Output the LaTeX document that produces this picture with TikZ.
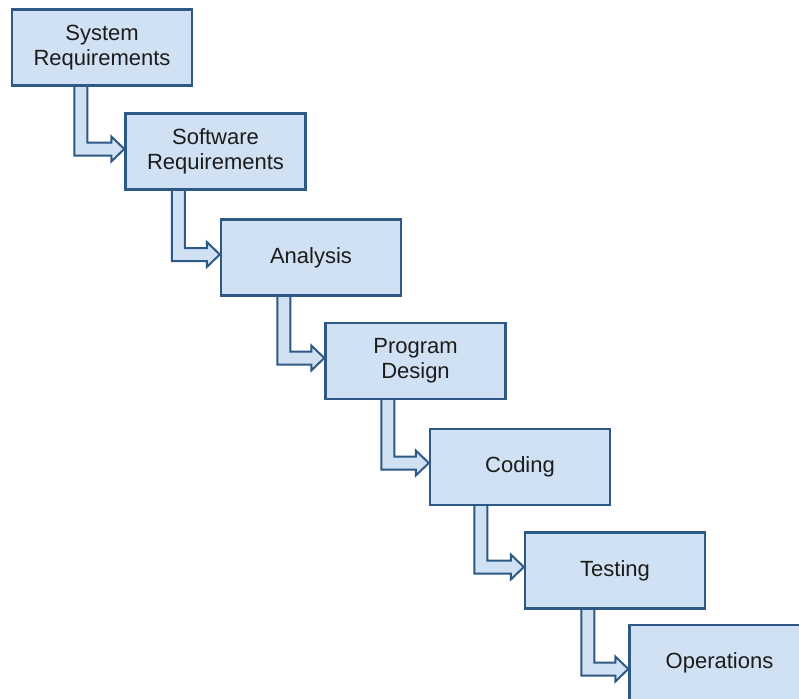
\documentclass[tikz,border=0pt]{standalone}
\usepackage{fontspec}
\setmainfont{Liberation Sans}
\usetikzlibrary{calc,backgrounds}

\definecolor{boxfill}{RGB}{207,225,242}
\definecolor{boxline}{RGB}{46,88,134}
\definecolor{labeltext}{RGB}{28,28,28}

\tikzset{
  phase/.style={draw=boxline, fill=boxfill, line width=2.4pt,
    minimum width=180pt, minimum height=76pt, inner sep=0pt,
    align=center, text=labeltext,
    font=\fontsize{22}{25}\selectfont},
  flowarrow/.style={draw=boxline, fill=boxfill, line width=2pt,
    line join=miter}
}

% Hollow elbow arrow: down from the bottom of #1 (shaft #3 pt from its
% left side), then right into the west side of #2 (shifted by #4).
\newcommand\flowstep[4]{%
  \draw[flowarrow]
    let \p1 = ($(#1.south west)+(#3,-4)$),
        \p2 = ($(#2.west)+(0,#4)$) in
    (\x1-6.5pt,\y1) -- (\x1-6.5pt,\y2-6.5pt)
    -- (\x2-13pt,\y2-6.5pt) -- (\x2-13pt,\y2-12.5pt)
    -- (\x2,\y2)
    -- (\x2-13pt,\y2+12.5pt) -- (\x2-13pt,\y2+6.5pt)
    -- (\x1+6.5pt,\y2+6.5pt) -- (\x1+6.5pt,\y1) -- cycle;
}

\begin{document}
\begin{tikzpicture}[x=1pt,y=-1pt]
  \useasboundingbox (0,0) rectangle (799,698);

  \node[phase] (sysreq) at (102,47.5)  {System\\Requirements};
  \node[phase] (swreq)  at (215.5,151.5) {Software\\Requirements};
  \node[phase] (anal)   at (311,257.5) {Analysis};
  \node[phase] (design) at (415.5,361) {Program\\Design};
  \node[phase] (coding) at (520,467)   {Coding};
  \node[phase] (test)   at (615,570.5) {Testing};
  \node[phase] (ops)    at (719.5,663) {Operations};

  \begin{scope}[on background layer]
    \flowstep{sysreq}{swreq}{70}{-2.5}
    \flowstep{swreq}{anal}{54}{-3}
    \flowstep{anal}{design}{64}{-3}
    \flowstep{design}{coding}{63.5}{-4}
    \flowstep{coding}{test}{52}{-3.5}
    \flowstep{test}{ops}{64}{6}
  \end{scope}
\end{tikzpicture}
\end{document}
